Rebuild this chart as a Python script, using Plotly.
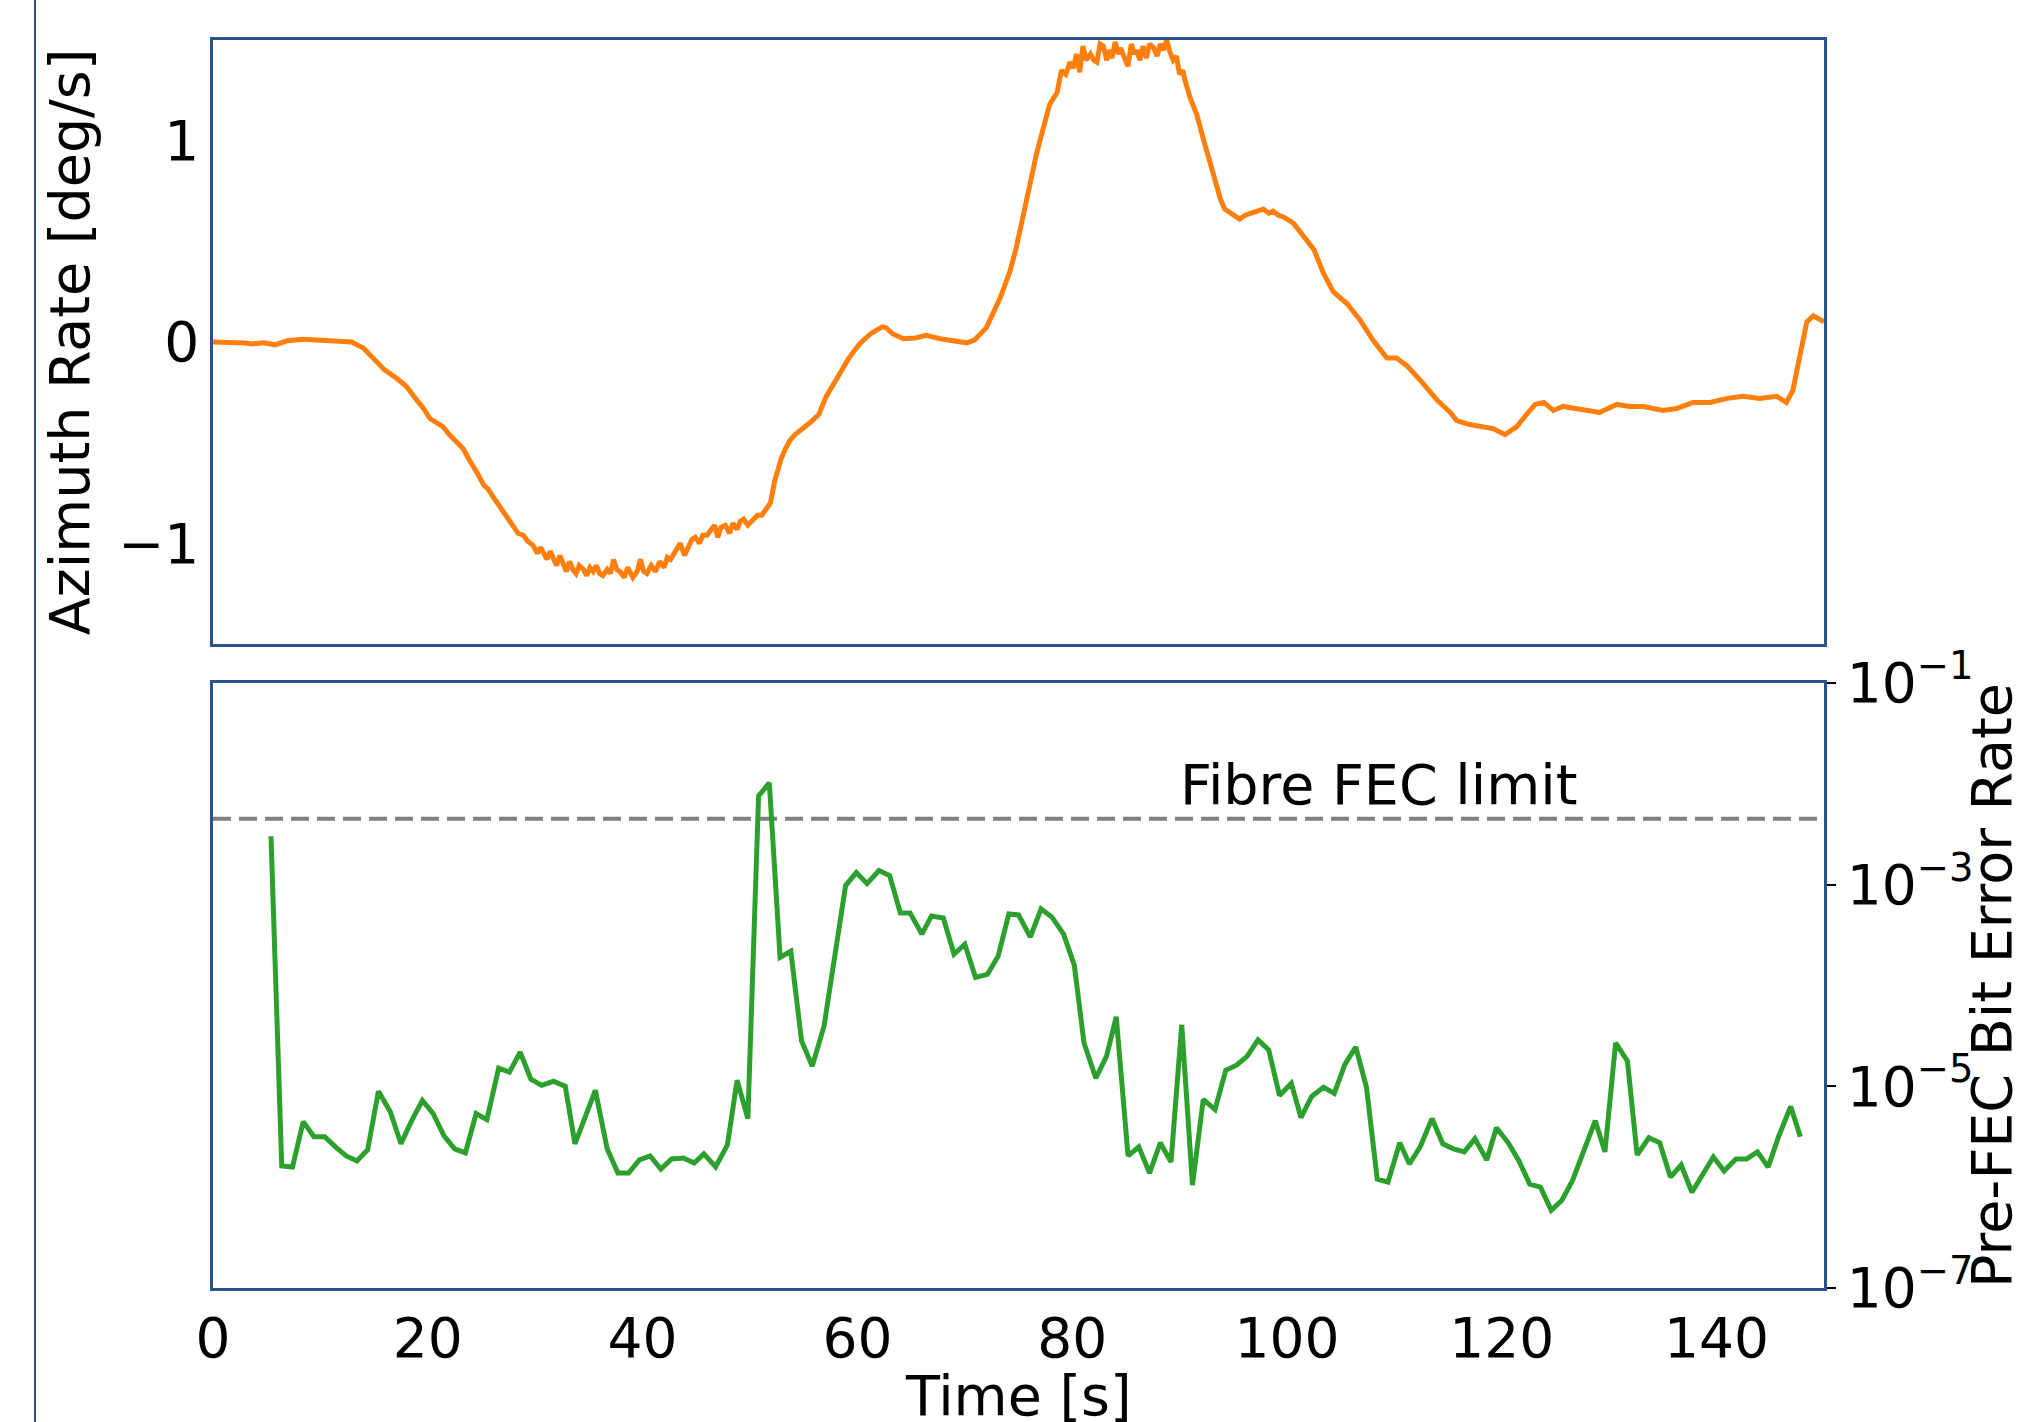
import math
import plotly.graph_objects as go

# ---------------- data ----------------
az_time = [0.0, 1.0, 2.0, 3.0, 3.6, 4.7, 5.8, 6.9, 8.4, 10.6, 11.8, 12.9, 14.0, 14.9, 15.5, 16.0,
           17.1, 18.0, 19.0, 19.6, 20.2, 20.8, 21.4, 22.0, 22.4, 23.3, 23.8, 24.2, 24.6, 25.2, 25.6,
           26.1, 26.5, 27.0, 27.5, 28.0, 28.4, 28.9, 29.3, 29.8, 30.2, 30.5, 30.8, 31.1, 31.4, 31.7,
           32.0, 32.3, 32.6, 32.9, 33.2, 33.5, 33.8, 34.1, 34.5, 34.8, 35.1, 35.4, 35.7, 36.0, 36.3,
           36.7, 37.0, 37.3, 37.6, 37.9, 38.3, 38.6, 39.1, 39.5, 39.8, 40.1, 40.4, 40.8, 41.2, 41.6,
           42.0, 42.3, 42.6, 43.0, 43.5, 43.9, 44.3, 44.6, 44.9, 45.3, 45.6, 46.0, 46.4, 46.7, 47.0,
           47.3, 47.7, 48.1, 48.4, 48.8, 49.1, 49.4, 49.8, 50.3, 50.7, 51.1, 51.5, 51.9, 52.3, 52.9,
           53.3, 53.7, 54.2, 54.7, 55.1, 55.6, 56.4, 57.1, 58.1, 59.2, 60.2, 61.2, 62.3, 62.7, 63.3,
           64.3, 65.4, 66.4, 67.7, 68.9, 70.2, 70.9, 72.0, 73.3, 74.2, 74.8, 75.5, 76.1, 76.7, 77.3,
           77.9, 78.6, 79.0, 79.4, 79.8, 80.1, 80.4, 80.7, 81.0, 81.3, 81.7, 82.0, 82.3, 82.6, 82.9,
           83.2, 83.5, 83.7, 84.0, 84.3, 84.5, 84.8, 85.2, 85.5, 85.8, 86.0, 86.3, 86.6, 86.9, 87.2,
           87.6, 87.9, 88.2, 88.5, 88.8, 89.1, 89.4, 89.7, 90.0, 90.3, 90.5, 91.0, 91.6, 92.2, 92.8,
           93.3, 93.8, 94.2, 95.0, 95.6, 96.1, 96.6, 97.2, 97.8, 98.3, 98.7, 99.2, 99.7, 100.6, 101.5,
           102.5, 103.4, 104.3, 105.6, 106.8, 108.0, 109.3, 110.2, 111.2, 112.4, 112.7, 114.0, 115.2,
           115.8, 117.0, 118.3, 119.2, 120.3, 121.4, 122.3, 123.1, 123.9, 124.8, 125.7, 127.0, 127.9,
           129.1, 130.7, 131.9, 133.2, 135.0, 136.3, 137.8, 139.4, 141.0, 142.5, 144.0, 145.6, 146.5,
           147.1, 147.8, 148.4, 149.0, 150.0]
az_rate = [0.00, 0.00, 0.00, -0.005, -0.01, -0.004, -0.014, 0.006, 0.014, 0.008, 0.0, 0.0, -0.03,
           -0.08, -0.11, -0.14, -0.18, -0.22, -0.29, -0.33, -0.38, -0.40, -0.42, -0.46, -0.48, -0.53,
           -0.58, -0.61, -0.65, -0.71, -0.73, -0.77, -0.80, -0.84, -0.88, -0.91, -0.95, -0.96, -0.99,
           -1.01, -1.05, -1.02, -1.05, -1.08, -1.04, -1.08, -1.11, -1.06, -1.11, -1.14, -1.09, -1.13,
           -1.15, -1.11, -1.13, -1.16, -1.12, -1.14, -1.11, -1.15, -1.16, -1.13, -1.15, -1.08, -1.13,
           -1.14, -1.17, -1.12, -1.17, -1.14, -1.08, -1.14, -1.15, -1.11, -1.14, -1.09, -1.12, -1.07,
           -1.08, -1.04, -1.00, -1.06, -1.01, -0.98, -0.97, -1.00, -0.96, -0.96, -0.93, -0.91, -0.97,
           -0.92, -0.91, -0.95, -0.90, -0.93, -0.89, -0.88, -0.91, -0.88, -0.86, -0.86, -0.83, -0.80,
           -0.69, -0.58, -0.53, -0.49, -0.46, -0.44, -0.42, -0.40, -0.36, -0.27, -0.18, -0.08, -0.01,
           0.04, 0.075, 0.07, 0.04, 0.016, 0.02, 0.033, 0.016, 0.006, -0.004, 0.01, 0.07, 0.22, 0.35,
           0.47, 0.65, 0.80, 0.94, 1.06, 1.18, 1.24, 1.35, 1.33, 1.39, 1.36, 1.43, 1.34, 1.47, 1.40,
           1.43, 1.40, 1.39, 1.48, 1.47, 1.40, 1.45, 1.41, 1.49, 1.43, 1.46, 1.42, 1.37, 1.48, 1.43,
           1.45, 1.40, 1.47, 1.41, 1.48, 1.46, 1.42, 1.48, 1.45, 1.50, 1.44, 1.40, 1.42, 1.33, 1.35,
           1.30, 1.21, 1.13, 1.01, 0.90, 0.79, 0.71, 0.66, 0.63, 0.61, 0.63, 0.64, 0.65, 0.66, 0.64,
           0.65, 0.63, 0.62, 0.59, 0.53, 0.46, 0.34, 0.25, 0.19, 0.11, 0.01, -0.08, -0.08, -0.12,
           -0.19, -0.21, -0.29, -0.35, -0.39, -0.41, -0.42, -0.43, -0.46, -0.42, -0.36, -0.31, -0.30,
           -0.34, -0.32, -0.33, -0.34, -0.35, -0.31, -0.32, -0.32, -0.34, -0.33, -0.30, -0.30, -0.28,
           -0.27, -0.28, -0.27, -0.30, -0.24, -0.06, 0.10, 0.13, 0.10]

ber_time = [5.4, 6.4, 7.4, 8.4, 9.4, 10.4, 11.4, 12.4, 13.4, 14.4, 15.4, 16.5, 17.5, 18.5, 19.5,
            20.5, 21.5, 22.5, 23.5, 24.5, 25.5, 26.6, 27.6, 28.6, 29.6, 30.6, 31.7, 32.8, 33.7, 34.7,
            35.6, 36.7, 37.7, 38.7, 39.7, 40.7, 41.7, 42.7, 43.8, 44.8, 45.7, 46.8, 47.9, 48.8, 49.8,
            50.8, 51.8, 52.8, 53.8, 54.8, 55.8, 56.9, 57.9, 58.9, 59.9, 60.9, 62.0, 63.0, 64.0, 64.9,
            66.0, 66.9, 68.0, 69.0, 70.0, 71.0, 72.1, 73.1, 74.1, 75.0, 76.1, 77.1, 78.1, 79.2, 80.2,
            81.1, 82.2, 83.2, 84.1, 85.2, 86.2, 87.2, 88.2, 89.2, 90.2, 91.2, 92.2, 93.3, 94.3, 95.3,
            96.3, 97.3, 98.3, 99.3, 100.4, 101.3, 102.3, 103.4, 104.4, 105.4, 106.4, 107.4, 108.4,
            109.4, 110.5, 111.4, 112.4, 113.5, 114.5, 115.5, 116.5, 117.5, 118.6, 119.5, 120.6, 121.6,
            122.6, 123.6, 124.6, 125.6, 126.6, 127.6, 128.7, 129.6, 130.6, 131.7, 132.6, 133.7, 134.7,
            135.7, 136.7, 137.7, 138.7, 139.7, 140.7, 141.8, 142.8, 143.8, 144.8, 145.8, 146.9, 147.8]
ber_log10 = [-2.52, -5.79, -5.80, -5.35, -5.50, -5.50, -5.60, -5.69, -5.74, -5.63,
             -5.05, -5.25, -5.57, -5.34, -5.14, -5.27, -5.49, -5.62, -5.66, -5.27,
             -5.33, -4.82, -4.86, -4.66, -4.93, -4.99, -4.95, -5.00, -5.57, -5.30,
             -5.04, -5.62, -5.86, -5.86, -5.73, -5.69, -5.82, -5.72, -5.71, -5.76,
             -5.67, -5.80, -5.58, -4.94, -5.32, -2.12, -1.99, -3.72, -3.66, -4.55,
             -4.80, -4.40, -3.71, -3.01, -2.88, -2.99, -2.86, -2.91, -3.28, -3.28,
             -3.49, -3.31, -3.33, -3.69, -3.59, -3.92, -3.89, -3.71, -3.29,
             -3.30, -3.52, -3.24, -3.32, -3.49, -3.80, -4.57, -4.92, -4.70, -4.31,
             -5.69, -5.60, -5.86, -5.56, -5.75, -4.39, -5.98, -5.13, -5.23, -4.84,
             -4.79, -4.70, -4.54, -4.64, -5.09, -4.97, -5.31, -5.10, -5.01, -5.07,
             -4.78, -4.61, -5.01, -5.92, -5.95, -5.56, -5.77, -5.60, -5.32, -5.57,
             -5.62, -5.65, -5.52, -5.73, -5.41, -5.56, -5.74, -5.97, -6.00, -6.23,
             -6.13, -5.93, -5.66, -5.34, -5.65, -4.57, -4.75, -5.68, -5.51, -5.56,
             -5.90, -5.78, -6.05, -5.88, -5.70, -5.84, -5.72, -5.72, -5.65, -5.80,
             -5.49, -5.20, -5.50]
ber = [10 ** v for v in ber_log10]

fec_limit = 4.5e-3
fec_label = "Fibre FEC limit"
fec_label_x = 108.5

x_range = [0, 150]
x_ticks = [0, 20, 40, 60, 80, 100, 120, 140]
az_range = [-1.5, 1.5]
az_ticks = [-1, 0, 1]
az_ticktext = ["\u22121", "0", "1"]
ber_ticks = [1e-1, 1e-3, 1e-5, 1e-7]
ber_ticktext = ["10<sup>\u22121</sup>", "10<sup>\u22123</sup>", "10<sup>\u22125</sup>", "10<sup>\u22127</sup>"]

# ---------------- figure ----------------
FONT = "DejaVu Sans"
FS = 55
FT = 55.5
FRAME = "#2c528c"

fig = go.Figure()
fig.add_trace(go.Scatter(x=az_time, y=az_rate, mode="lines", xaxis="x2", yaxis="y2",
                         line=dict(color="#ff7f0e", width=5), showlegend=False))
fig.add_trace(go.Scatter(x=[x_range[0], x_range[1]], y=[fec_limit, fec_limit], mode="lines",
                         xaxis="x", yaxis="y",
                         line=dict(color="#808080", width=4, dash="18px,8px"), showlegend=False))
fig.add_trace(go.Scatter(x=ber_time, y=ber, mode="lines", xaxis="x", yaxis="y",
                         line=dict(color="#2ca02c", width=5), showlegend=False))

fig.add_annotation(x=fec_label_x, y=math.log10(fec_limit), xref="x", yref="y", text=fec_label,
                   showarrow=False, yanchor="bottom", xanchor="center", yshift=0,
                   font=dict(family=FONT, size=FT, color="black"))

W, H = 2024, 1422
ml, mr, mt, mb = 213, 200, 40, 134
ph = H - mt - mb
pw = W - ml - mr

# x-axis title placed as paper text so it can sit partly below the page edge, as in the reference
fig.add_annotation(x=0.5, y=(H - mb - 1361) / ph, xref="paper", yref="paper", text="Time [s]",
                   showarrow=False, xanchor="center", yanchor="top",
                   font=dict(family=FONT, size=FT, color="black"))

axis_common = dict(showline=True, linecolor=FRAME, linewidth=2.5, mirror=True,
                   showgrid=False, zeroline=False, automargin=False,
                   tickfont=dict(family=FONT, size=FS, color="black"))

fig.update_layout(
    template="none",
    width=W, height=H,
    margin=dict(l=ml, r=mr, t=mt, b=mb, autoexpand=False),
    paper_bgcolor="white", plot_bgcolor="white",
    font=dict(family=FONT, size=FS, color="black"),
    showlegend=False,
    xaxis=dict(domain=[0, 1], anchor="y", range=x_range, tickvals=x_ticks, ticks="",
               **axis_common),
    yaxis=dict(domain=[0, (H - mb - 683) / ph], anchor="x", type="log", range=[-7, -1],
               side="right", tickvals=ber_ticks, ticktext=ber_ticktext,
               ticks="outside", ticklen=9, tickwidth=2, tickcolor="black",
               title=dict(text="Pre-FEC Bit Error Rate", font=dict(family=FONT, size=FT), standoff=12),
               **axis_common),
    xaxis2=dict(domain=[0, 1], anchor="y2", range=x_range, matches="x", showticklabels=False,
                ticks="", **axis_common),
    yaxis2=dict(domain=[(H - mb - 644) / ph, 1], anchor="x2", range=az_range,
                tickvals=az_ticks, ticktext=az_ticktext, ticks="",
                title=dict(text="Azimuth Rate [deg/s]", font=dict(family=FONT, size=FT), standoff=11),
                **axis_common),
)

# thin frame line at the far left of the figure
fig.add_shape(type="line", xref="paper", yref="paper",
              x0=(35 - ml) / pw, x1=(35 - ml) / pw, y0=-mb / ph, y1=1 + mt / ph,
              line=dict(color=FRAME, width=2))

fig.write_html("out.html", config={"displayModeBar": False},
               post_script="document.body.style.margin='0px';")
